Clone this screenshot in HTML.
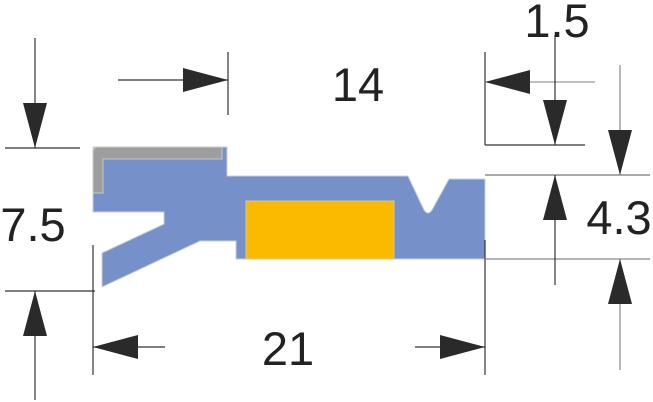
<!DOCTYPE html>
<html><head><style>html,body{margin:0;padding:0;background:#fff}svg{display:block}</style></head>
<body>
<svg width="653" height="402" viewBox="0 0 653 402" xmlns="http://www.w3.org/2000/svg">
<defs>
<marker id="a" viewBox="0 0 45 24" refX="45" refY="12" markerWidth="45" markerHeight="24" markerUnits="userSpaceOnUse" orient="auto">
<path d="M0,0 L45,12 L0,24 Z" fill="#2a2a2a"/></marker>
</defs>
<path d="M93,147 L227,147 L227,176 L408,176 L424,210 Q428,216 432,210 L449,179 L485,179 L485,259 L236,259 L236,241 L200,241 L102,287 L102,253 L164,224 L164,212 L93,212 Z" fill="#7691c9" stroke="#c8cfdc" stroke-width="1"/>
<path d="M98,147 L222,147 L222,159 L103,159 L103,193 L93,193 L93,152 Q93,147 98,147 Z" fill="#9d9e9d" stroke="#c8c8c8" stroke-width="1"/>
<rect x="246" y="201" width="148" height="58" fill="#fbb900" stroke="#d8c890" stroke-width="1"/>
<g stroke="#333" stroke-width="1.2" fill="none">
<line x1="5" y1="148" x2="80" y2="148"/>
<line x1="5" y1="291" x2="95" y2="291"/>
<line x1="35" y1="38" x2="35" y2="148" marker-end="url(#a)"/>
<line x1="35" y1="400" x2="35" y2="291" marker-end="url(#a)"/>
<line x1="228" y1="52" x2="228" y2="115"/>
<line x1="118" y1="80" x2="228" y2="80" marker-end="url(#a)"/>
<line x1="93" y1="245" x2="93" y2="375"/>
<line x1="485" y1="240" x2="485" y2="375"/>
<line x1="165" y1="347" x2="93" y2="347" marker-end="url(#a)"/>
<line x1="415" y1="347" x2="485" y2="347" marker-end="url(#a)"/>
<line x1="485" y1="52" x2="485" y2="145"/>
<line x1="485" y1="145" x2="585" y2="145"/>
<line x1="595" y1="82" x2="485" y2="82" marker-end="url(#a)" stroke="#999"/>
<line x1="555" y1="35" x2="555" y2="145" marker-end="url(#a)"/>
<line x1="485" y1="175" x2="650" y2="175" stroke="#777"/>
<line x1="485" y1="259" x2="650" y2="259" stroke="#888"/>
<line x1="620" y1="65" x2="620" y2="175" marker-end="url(#a)" stroke="#888"/>
<line x1="555" y1="285" x2="555" y2="175" marker-end="url(#a)"/>
<line x1="620" y1="370" x2="620" y2="259" marker-end="url(#a)" stroke="#888"/>
</g>
<g font-family="Liberation Sans, sans-serif" font-size="47" fill="#222" text-anchor="middle">
<text x="33" y="241">7.5</text>
<text x="358" y="101">14</text>
<text x="288" y="365">21</text>
<text x="557" y="37">1.5</text>
<text x="619" y="234">4.3</text>
</g>
</svg>
</body></html>
